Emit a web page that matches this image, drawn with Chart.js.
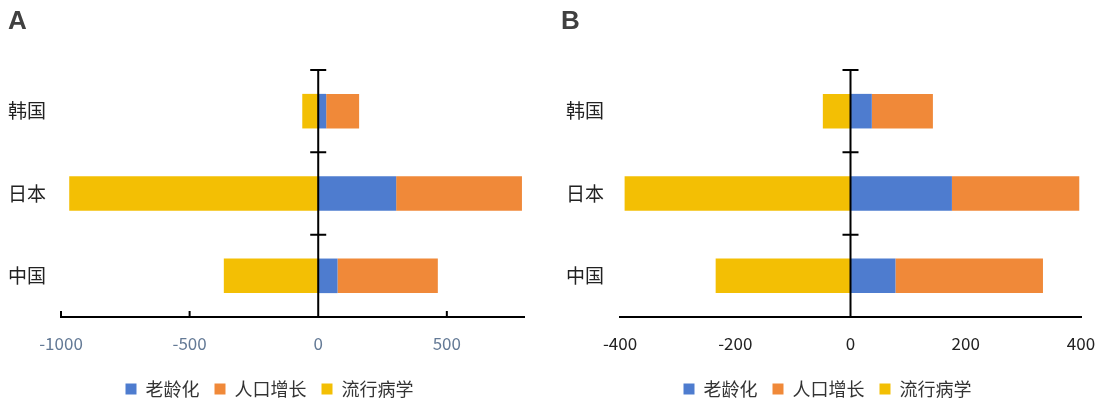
<!DOCTYPE html>
<html>
<head>
<meta charset="utf-8">
<script src="https://cdn.jsdelivr.net/npm/chart.js@4/dist/chart.umd.min.js"></script>
<style>
    body { margin: 0; overflow: hidden; background: #fff; }
    .box { position: absolute; top: 0; width: 552px; height: 408px; }
    .tag { position: absolute; top: 7px; font: bold 26px "Liberation Sans", Arial, sans-serif; line-height: 1; color: #404040; z-index: 2; }
</style>
</head>
<body>
<div class="box" style="left:0"><canvas id="chartA"></canvas></div>
<div class="box" style="left:552px"><canvas id="chartB"></canvas></div>
<div class="tag" style="left:8px">A</div>
<div class="tag" style="left:561px">B</div>
<script>
const categories = ['韩国', '日本', '中国'];
const seriesNames = ['老龄化', '人口增长', '流行病学'];

// panel A
const agingA = [31, 303, 75];
const growthA = [128, 489, 390];
const epiA = [-62, -968, -367];
const ticksA = [-1000, -500, 0, 500];
const rangeA = [-1000, 800];

// panel B
const agingB = [37, 176, 78];
const growthB = [106, 221, 256];
const epiB = [-48, -392, -234];
const ticksB = [-400, -200, 0, 200, 400];
const rangeB = [-400, 400];

const colors = ['#4E7CCF', '#F08939', '#F3BF04'];
const cjk = '"Noto Sans CJK SC", "Noto Sans", sans-serif';

// vertical line at zero with small crosses between the categories
const zeroAxis = {
    id: 'zeroAxis',
    afterDatasetsDraw(chart, args, opts) {
        const { ctx, chartArea, scales: { x, y } } = chart;
        const x0 = x.getPixelForValue(0);
        ctx.save();
        ctx.strokeStyle = '#000';
        ctx.lineWidth = 2;
        ctx.beginPath();
        ctx.moveTo(x0, chartArea.top - 1);
        ctx.lineTo(x0, chartArea.bottom);
        for (let i = 0; i < categories.length; i++) {
            const yb = y.getPixelForValue(i - 0.5);
            ctx.moveTo(x0 - 8, yb);
            ctx.lineTo(x0 + 8, yb);
        }
        if (opts.upTicks) {
            x.ticks.forEach(t => {
                if (t.value === 0) return;
                const px = x.getPixelForValue(t.value);
                ctx.moveTo(px, chartArea.bottom);
                ctx.lineTo(px, chartArea.bottom - 6);
            });
        }
        ctx.stroke();
        ctx.restore();
    }
};

function makeChart(id, series, ticks, range, p) {
    return new Chart(document.getElementById(id), {
        type: 'bar',
        data: {
            labels: categories,
            datasets: series.map((d, i) => ({
                label: seriesNames[i],
                data: d,
                backgroundColor: colors[i],
                borderWidth: 0,
                barPercentage: 0.42,
                categoryPercentage: 1
            }))
        },
        options: {
            indexAxis: 'y',
            responsive: true,
            maintainAspectRatio: false,
            animation: false,
            layout: { padding: { top: 70, left: p.left, right: p.right, bottom: 0 } },
            scales: {
                x: {
                    type: 'linear',
                    stacked: true,
                    min: range[0],
                    max: range[1],
                    afterBuildTicks: s => { s.ticks = ticks.map(v => ({ value: v })); },
                    afterFit: s => { s.height = 48; s.paddingLeft = 0; s.paddingRight = 0; },
                    grid: { display: false, drawTicks: false },
                    border: { display: true, color: '#000', width: 2 },
                    ticks: {
                        color: p.tickColor,
                        padding: 16,
                        font: { family: cjk, size: 17 },
                        callback: v => String(v)
                    }
                },
                y: {
                    stacked: true,
                    afterFit: s => { s.width = p.yWidth; },
                    grid: { display: false, drawTicks: false },
                    border: { display: false },
                    // mirrored so the labels are not clipped to the narrow axis box
                    ticks: { mirror: true, color: '#222', padding: p.labelPad, font: { family: cjk, size: 19 } }
                }
            },
            plugins: {
                zeroAxis: { upTicks: p.upTicks },
                tooltip: { enabled: false },
                legend: {
                    position: 'bottom',
                    labels: {
                        boxWidth: 11,
                        boxHeight: 11,
                        padding: 15,
                        color: '#333',
                        font: { family: cjk, size: 18 }
                    }
                }
            }
        },
        plugins: [zeroAxis]
    });
}

makeChart('chartA', [agingA, growthA, epiA], ticksA, rangeA,
    { left: 15, right: 28, yWidth: 46, labelPad: -53, tickColor: '#647A96', upTicks: true });
makeChart('chartB', [agingB, growthB, epiB], ticksB, rangeB,
    { left: 22, right: 23, yWidth: 46, labelPad: -54, tickColor: '#222', upTicks: false });
</script>
</body>
</html>
